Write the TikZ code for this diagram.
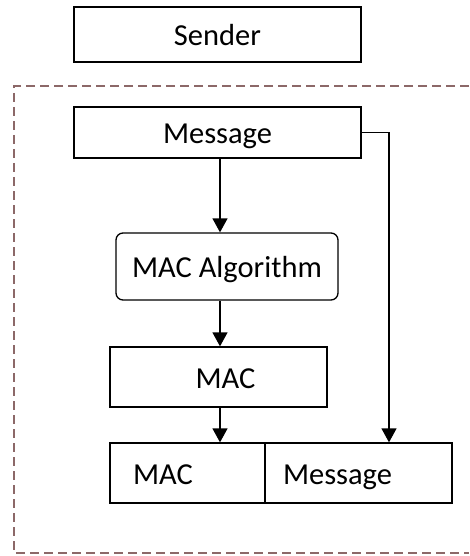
\documentclass[tikz,border=0pt]{standalone}
\usepackage{fontspec}
\setmainfont{Carlito}
\usetikzlibrary{arrows.meta}
\definecolor{framecol}{RGB}{140,104,104}
\tikzset{
  box/.style={draw=black, line width=1.3pt, fill=white, inner sep=0pt,
    font=\fontsize{30.5}{36}\selectfont, text height=26pt, text depth=3.5pt},
  roundbox/.style={box, rounded corners=7pt},
  arr/.style={line width=1.3pt, -{Triangle[width=15pt,length=14pt]}},
  frame/.style={draw=framecol, line width=1.3pt, dash pattern=on 9pt off 5pt}
}
\begin{document}
\begin{tikzpicture}[x=1pt,y=-1pt]
  \useasboundingbox (0,0) rectangle (469,556);
  % dashed outline of the sending side
  \draw[frame] (469,86) -- (14,86) -- (14,553) -- (469,553);

  \node[box, minimum width=287pt, minimum height=55pt] (sender) at (217.5,34.5) {Sender};
  \node[box, minimum width=287pt, minimum height=51pt] (msg) at (217.5,132.5) {Message};
  \node[roundbox, minimum width=222pt, minimum height=67pt] (alg) at (227,266.5) {MAC Algorithm};
  \node[box, minimum width=217pt, minimum height=60pt] (mac) at (218.5,377) {\hspace*{14pt}MAC};
  \node[box, minimum height=60pt, text width=109pt, inner xsep=23pt, align=left] (cellL) at (187.5,473) {MAC};
  \node[box, minimum height=60pt, text width=151pt, inner xsep=18pt, align=left] (cellR) at (358.5,473) {Message};

  \coordinate (ax) at (220,0);
  \coordinate (rx) at (389,0);
  \draw[arr] (msg.south -| ax) -- (alg.north -| ax);
  \draw[arr] (alg.south -| ax) -- (mac.north -| ax);
  \draw[arr] (mac.south -| ax) -- (cellL.north -| ax);
  \draw[arr] (msg.east) -- (msg.east -| rx) -- (cellR.north -| rx);
\end{tikzpicture}
\end{document}
